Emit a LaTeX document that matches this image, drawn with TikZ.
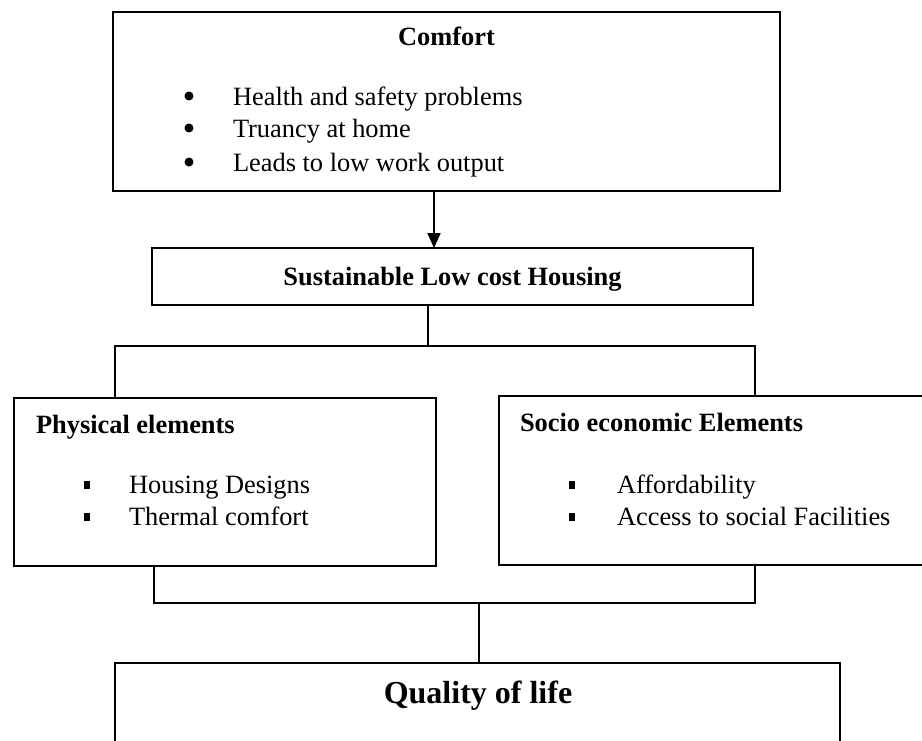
\documentclass[tikz,border=0pt]{standalone}
\usepackage{fontspec}
\setmainfont{Liberation Serif}
\usetikzlibrary{arrows.meta}

\begin{document}
\begin{tikzpicture}[x=0.5pt, y=-0.5pt, line width=1pt,
		font=\fontsize{13.2pt}{16pt}\selectfont,
		box/.style = {draw, rectangle, inner sep=0pt, outer sep=0pt},
		txt/.style = {inner sep=0pt, anchor=base west},
		head/.style = {inner sep=0pt, anchor=base, font=\fontsize{13.2pt}{16pt}\selectfont\bfseries},
		dot/.style = {circle, fill, inner sep=0pt, minimum size=4.5pt},
		sq/.style = {rectangle, fill, inner sep=0pt, minimum width=3pt, minimum height=4pt}]
		\useasboundingbox (0,0) rectangle (922,740);
		% boxes
		\node[box, minimum width=333.5pt, minimum height=89.5pt] (comfort) at (446.5,101.5) {};
		\node[box, minimum width=300.5pt, minimum height=28.5pt] (sust) at (452.5,276.5) {};
		\node[box, minimum width=211pt, minimum height=84pt] (phys) at (225,482) {};
		\node[box, minimum width=218pt, minimum height=84.5pt] (socio) at (717,480.5) {};
		\node[box, minimum width=362.5pt, minimum height=53.5pt] (qual) at (477.5,716.5) {};
		% texts
		\node[head] (t1) at (446.5,45) {Comfort};
		\node[dot] (d1) at (189,96) {};
		\node[dot] (d2) at (189,128) {};
		\node[dot] (d3) at (189,162) {};
		\node[txt] (i1) at (232,105) {Health and safety problems};
		\node[txt] (i2) at (232,137) {Truancy at home};
		\node[txt] (i3) at (232,171) {Leads to low work output};
		\node[head] (t2) at (452.5,285) {Sustainable Low cost Housing};
		\node[head, anchor=base west] (t3) at (35,433) {Physical elements};
		\node[sq] (s1) at (87,485) {};
		\node[sq] (s2) at (87,517) {};
		\node[txt] (p1) at (128,493) {Housing Designs};
		\node[txt] (p2) at (128,525) {Thermal comfort};
		\node[head, anchor=base west] (t4) at (519,431) {Socio economic Elements};
		\node[sq] (s3) at (572,485) {};
		\node[sq] (s4) at (572,517) {};
		\node[txt] (e1) at (616,493) {Affordability};
		\node[txt] (e2) at (616,525) {Access to social Facilities};
		\node[head, font=\fontsize{16pt}{19pt}\selectfont\bfseries] (t5) at (478,703) {Quality of life};
		% connectors
		\coordinate (a1) at (434,220);
		\coordinate (c1) at (428,346);
		\coordinate (tl) at (115,346);
		\coordinate (tr) at (755,346);
		\coordinate (bl) at (154,603);
		\coordinate (br) at (755,603);
		\coordinate (c2) at (479,603);
		\draw[-{Triangle[width=6.5pt,length=7.5pt]}] (comfort.south -| a1) -- (sust.north -| a1);
		\draw (sust.south -| c1) -- (c1);
		\draw (phys.north -| tl) -- (tl) -- (tr) -- (socio.north -| tr);
		\draw (phys.south -| bl) -- (bl) -- (br) -- (socio.south -| br);
		\draw (c2) -- (qual.north -| c2);
	\end{tikzpicture}
\end{document}
